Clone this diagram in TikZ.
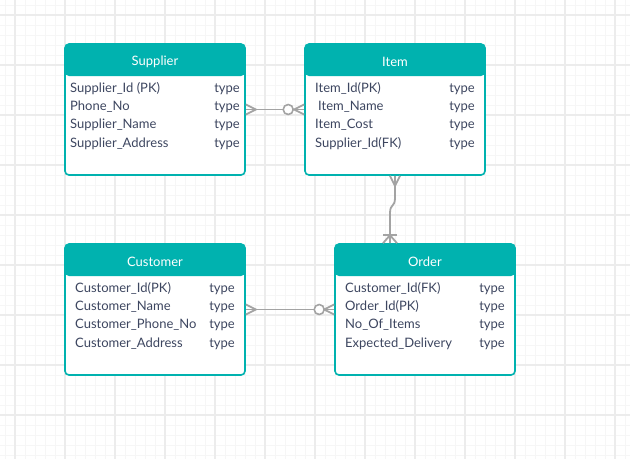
\documentclass[tikz,border=0pt]{standalone}
\usepackage{fontspec}
\setmainfont{Lato}
\usepackage{tikz}
\usetikzlibrary{positioning, calc}

\definecolor{erteal}{HTML}{00B2AF}
\definecolor{ertext}{HTML}{3D4660}
\definecolor{erline}{HTML}{A3A3A3}
\definecolor{gridmajor}{HTML}{ECECEC}
\definecolor{gridminor}{HTML}{F6F6F6}

\begin{document}
\begin{tikzpicture}[x=1pt, y=-1pt,
        entity/.style={draw=erteal, fill=white, line width=1.6pt, rounded corners=4pt,
            minimum width=180pt, minimum height=131pt, inner sep=0pt,
            path picture={\fill[erteal] (path picture bounding box.north west)
                rectangle ([yshift=-32pt]path picture bounding box.north east);}},
        title/.style={text=white, font=\fontsize{13}{15}\selectfont, inner sep=0pt},
        field/.style={anchor=west, text=ertext, font=\fontsize{13}{15}\selectfont,
            inner sep=0pt, text height=9pt, text depth=3pt},
        ftype/.style={field, anchor=east},
        rel/.style={draw=erline, line width=1.8pt},
        ring/.style={circle, draw=erline, fill=white, line width=1.6pt,
            minimum size=10pt, inner sep=0pt}
    ]
        \useasboundingbox (0,0) rectangle (630,459);

        % Grid
        \foreach \x in {5,15,...,625} \draw[gridminor, line width=0.8pt] (\x,0) -- (\x,459);
        \foreach \y in {5,15,...,455} \draw[gridminor, line width=0.8pt] (0,\y) -- (630,\y);
        \foreach \x in {15,65,...,615} \draw[gridmajor, line width=1.4pt] (\x,0) -- (\x,459);
        \foreach \y in {15,65,...,415} \draw[gridmajor, line width=1.4pt] (0,\y) -- (630,\y);

        % Entities
        \node[entity] (sup) at (155,109.5) {};
        \node[entity] (item) at (395,109.5) {};
        \node[entity] (cust) at (155,309.5) {};
        \node[entity] (ord) at (425,309.5) {};

        \node[title] (sup-t) at (155,62) {Supplier};
        \node[title] (item-t) at (395,62) {Item};
        \node[title] (cust-t) at (155,262) {Customer};
        \node[title] (ord-t) at (425,262) {Order};

        % Supplier fields
        \node[field] (sup-f1) at (70,89) {Supplier\_Id (PK)};
        \node[field] (sup-f2) at (70,107) {Phone\_No};
        \node[field] (sup-f3) at (70,125.5) {Supplier\_Name};
        \node[field] (sup-f4) at (70,144) {Supplier\_Address};
        \foreach \y in {89,107,125.5,144} \node[ftype] at (240,\y) {type};

        % Item fields
        \node[field] (item-f1) at (315,89) {Item\_Id(PK)};
        \node[field] (item-f2) at (318,107) {Item\_Name};
        \node[field] (item-f3) at (315,125.5) {Item\_Cost};
        \node[field] (item-f4) at (315,144) {Supplier\_Id(FK)};
        \foreach \y in {89,107,125.5,144} \node[ftype] at (475,\y) {type};

        % Customer fields
        \node[field] (cust-f1) at (75,289) {Customer\_Id(PK)};
        \node[field] (cust-f2) at (75,307) {Customer\_Name};
        \node[field] (cust-f3) at (75,325.5) {Customer\_Phone\_No};
        \node[field] (cust-f4) at (75,344) {Customer\_Address};
        \foreach \y in {289,307,325.5,344} \node[ftype] at (235,\y) {type};

        % Order fields
        \node[field] (ord-f1) at (345,289) {Customer\_Id(FK)};
        \node[field] (ord-f2) at (345,307) {Order\_Id(PK)};
        \node[field] (ord-f3) at (345,325.5) {No\_Of\_Items};
        \node[field] (ord-f4) at (345,344) {Expected\_Delivery};
        \foreach \y in {289,307,325.5,344} \node[ftype] at (505,\y) {type};

        % Supplier -- Item
        \draw[rel] (sup.east) -- (item.west);
        \draw[rel] ($(sup.east)+(0,-5)$) -- ($(sup.east)+(10,0)$) -- ($(sup.east)+(0,5)$);
        \draw[rel] ($(item.west)+(0,-5)$) -- ($(item.west)+(-10,0)$) -- ($(item.west)+(0,5)$);
        \node[ring] (sup-r) at ($(item.west)+(-16,0)$) {};

        % Item -- Order
        \draw[rel] (item.south) -- ++(0,22) .. controls +(0,10) and ($(ord.north)+(-35,-40)$)
            .. ($(ord.north)+(-35,-30)$) -- ($(ord.north)+(-35,0)$);
        \draw[rel] ($(item.south)+(-5,0)$) -- ($(item.south)+(0,10)$) -- ($(item.south)+(5,0)$);
        \draw[rel] ($(ord.north)+(-42,0)$) -- ($(ord.north)+(-35,-8)$) -- ($(ord.north)+(-28,0)$);
        \draw[rel] ($(ord.north)+(-42,-8)$) -- ($(ord.north)+(-28,-8)$);

        % Customer -- Order
        \draw[rel] (cust.east) -- (ord.west);
        \draw[rel] ($(cust.east)+(0,-5)$) -- ($(cust.east)+(10,0)$) -- ($(cust.east)+(0,5)$);
        \draw[rel] ($(ord.west)+(0,-5)$) -- ($(ord.west)+(-10,0)$) -- ($(ord.west)+(0,5)$);
        \node[ring] (ord-r) at ($(ord.west)+(-15,0)$) {};
\end{tikzpicture}
\end{document}
